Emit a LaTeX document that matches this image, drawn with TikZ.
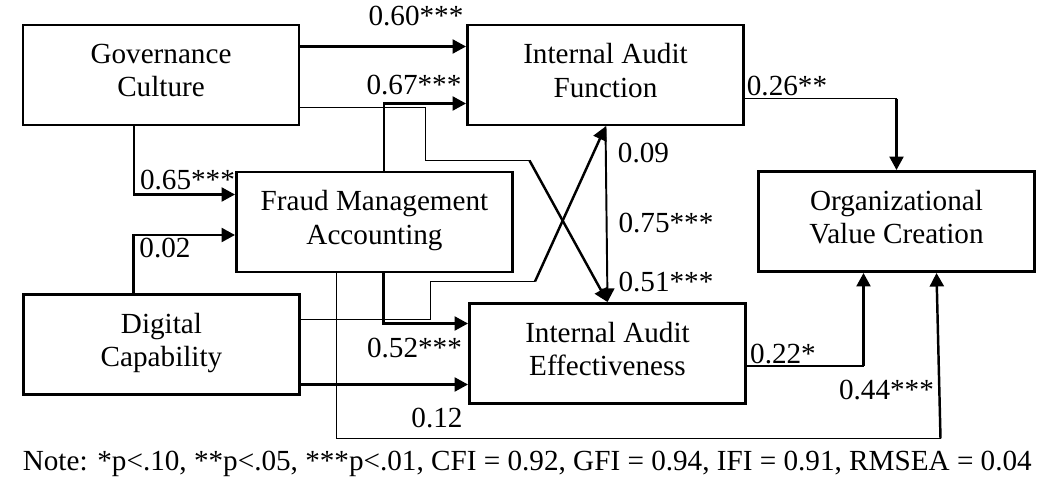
\documentclass[tikz,border=0pt]{standalone}
\usepackage{fontspec}
\setmainfont{Liberation Serif}
\usetikzlibrary{arrows.meta}

\begin{document}
\begin{tikzpicture}[
	box/.style={draw,line width=1.7pt,minimum width=5.52cm,minimum height=2cm,align=center,inner sep=0,text depth=0.18cm},
	wire/.style={line width=0.7pt},
	arc/.style={line width=1.4pt,-{Triangle[length=0.27cm,width=0.28cm]}},
	font=\fontsize{16.6}{19}\selectfont]
	\useasboundingbox (0,0) rectangle (20.96,9.66);
	\node[box] (1) at (3.22,8.16) {Governance\\Culture};
	\node[box] (2) at (12.11,8.16) {Internal Audit\\Function};
	\node[box] (3) at (7.49,5.22) {Fraud Management\\Accounting};
	\node[box] (4) at (3.23,2.77) {Digital\\Capability};
	\node[box] (5) at (12.15,2.59) {Internal Audit\\Effectiveness};
	\node[box] (6) at (17.93,5.23) {Organizational\\Value Creation};
	\coordinate (a) at (10.59,6.45);
	\coordinate (b) at (10.70,4.03);
	\coordinate (c) at (17.93,7.69);
	\coordinate (d) at (17.27,2.34);
	\coordinate (e) at (18.81,0.89);
	\draw[arc] (1.east |- 0,8.73) -- (2.west |- 0,8.73);
	\draw[arc] (3.north -| 7.68,0) |- (2.west |- 0,7.59);
	\draw[wire] (1.east |- 0,7.51) -| (8.51,6.45) -- (a);
	\draw[arc] (a) -- (5.north);
	\draw[arc,line width=1.1pt] (2.south) -- (5.north);
	\draw[wire] (4.east |- 0,3.27) -| (8.61,4.03) -- (b);
	\draw[arc] (b) -- (2.south);
	\draw[arc] (3.south -| 7.67,0) |- (5.west |- 0,3.19);
	\draw[arc] (4.east |- 0,1.97) -- (5.west |- 0,1.97);
	\draw[wire] (2.east |- 0,7.69) -- (c);
	\draw[arc] (c) -- (6.north);
	\draw[wire] (5.east |- 0,2.34) -- (d);
	\draw[arc] (d) -- (6.south -| d);
	\draw[wire] (3.south -| 6.73,0) |- (e);
	\draw[arc] (e) -- (6.south -| 18.73,0);
	\draw[arc] (1.south -| 2.68,0) |- (3.west |- 0,5.77);
	\draw[arc] (4.north -| 2.67,0) |- (3.west |- 0,4.96);
	\node (7) at (8.32,9.33) {0.60***};
	\node (8) at (8.28,7.96) {0.67***};
	\node (9) at (3.75,6.06) {0.65***};
	\node (10) at (3.30,4.70) {0.02};
	\node (11) at (12.87,6.60) {0.09};
	\node (12) at (13.32,5.20) {0.75***};
	\node (13) at (13.32,4.01) {0.51***};
	\node (14) at (8.29,2.70) {0.52***};
	\node (15) at (8.74,1.30) {0.12};
	\node (16) at (15.74,7.94) {0.26**};
	\node (17) at (15.66,2.57) {0.22*};
	\node (18) at (17.73,1.86) {0.44***};
	\node[anchor=base west,inner sep=0] (19) at (0.45,0.26) {Note: *p<.10, **p<.05, ***p<.01, CFI = 0.92, GFI = 0.94, IFI = 0.91, RMSEA = 0.04};
\end{tikzpicture}
\end{document}
